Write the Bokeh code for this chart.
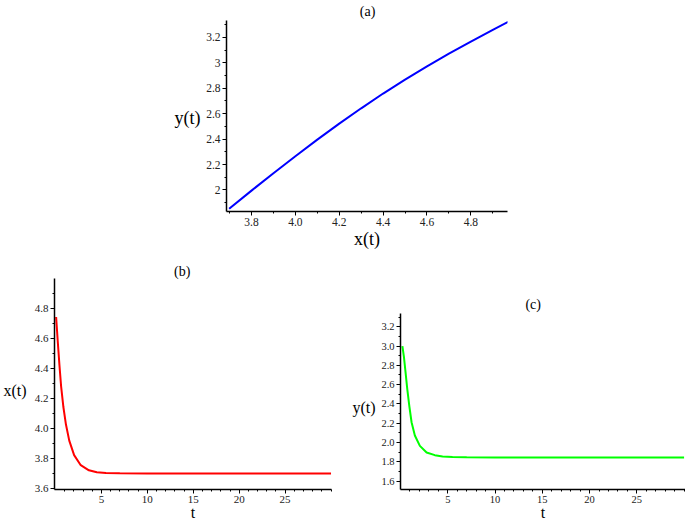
from bokeh.plotting import figure
from bokeh.models import Range1d, FixedTicker, LinearAxis
from bokeh.layouts import column, row
from bokeh.embed import file_html
from bokeh.resources import INLINE
from bokeh.core.properties import value
import numpy as np

# ---------------- data ----------------
# (a) phase trajectory y(t) versus x(t)
xa = [3.698, 3.80, 3.90, 4.00, 4.10, 4.20, 4.30, 4.40, 4.50, 4.60, 4.70, 4.80, 4.90, 4.97]
ya = [1.852, 1.995, 2.132, 2.265, 2.396, 2.522, 2.642, 2.758, 2.867, 2.972, 3.071, 3.166, 3.258, 3.322]

# (b) x(t) versus t
tb = [0.07, 0.25, 0.43, 0.61, 0.86, 1.14, 1.5, 2.03, 2.75, 3.64, 4.5, 5.5, 7.0, 10.0, 15.0, 20.0, 25.0, 30.0]
xb = [4.74, 4.575, 4.42, 4.28, 4.14, 4.023, 3.916, 3.819, 3.752, 3.718, 3.705, 3.700, 3.698, 3.697, 3.697, 3.697, 3.697, 3.697]

# (c) y(t) versus t
tc = [0.2, 0.36, 0.54, 0.72, 0.93, 1.17, 1.52, 2.05, 2.76, 3.63, 4.45, 5.5, 7.0, 10.0, 15.0, 20.0, 25.0, 30.0]
yc = [3.0, 2.891, 2.721, 2.55, 2.38, 2.21, 2.073, 1.965, 1.897, 1.869, 1.856, 1.850, 1.847, 1.845, 1.845, 1.845, 1.845, 1.845]

# tick values and labels
a_xticks = [3.8, 4.0, 4.2, 4.4, 4.6, 4.8]
a_xlabels = ["3.8", "4.0", "4.2", "4.4", "4.6", "4.8"]
a_yticks = [2.0, 2.2, 2.4, 2.6, 2.8, 3.0, 3.2]
a_ylabels = ["2", "2.2", "2.4", "2.6", "2.8", "3", "3.2"]
t_ticks = [5, 10, 15, 20, 25]
t_labels = ["5", "10", "15", "20", "25"]
b_yticks = [3.6, 3.8, 4.0, 4.2, 4.4, 4.6, 4.8]
b_ylabels = ["3.6", "3.8", "4.0", "4.2", "4.4", "4.6", "4.8"]
c_yticks = [1.6, 1.8, 2.0, 2.2, 2.4, 2.6, 2.8, 3.0, 3.2]
c_ylabels = ["1.6", "1.8", "2.0", "2.2", "2.4", "2.6", "2.8", "3.0", "3.2"]

SERIF = "Liberation Serif"


def style(p, xt, xl, xminor, yt, yl, yminor, fs):
    p.xgrid.visible = False
    p.ygrid.visible = False
    p.outline_line_color = None
    p.xaxis.ticker = FixedTicker(ticks=xt, minor_ticks=xminor)
    p.yaxis.ticker = FixedTicker(ticks=yt, minor_ticks=yminor)
    p.xaxis.major_label_overrides = {v: s for v, s in zip(xt, xl)}
    p.yaxis.major_label_overrides = {v: s for v, s in zip(yt, yl)}
    for ax in (p.xaxis, p.yaxis):
        ax.axis_line_color = "black"
        ax.axis_line_width = 1.5
        ax.major_tick_line_color = "black"
        ax.minor_tick_line_color = "black"
        ax.major_tick_in = 0
        ax.major_tick_out = 4
        ax.minor_tick_in = 0
        ax.minor_tick_out = 2
        ax.major_label_text_font = SERIF
        ax.major_label_text_font_size = fs
        ax.major_label_text_color = "#222222"
        ax.major_label_standoff = 2
    p.xaxis.axis_label_text_font = SERIF
    p.xaxis.axis_label_text_font_style = "normal"
    p.xaxis.axis_label_text_color = "black"


def text_axis(p, side, pos, text, size, standoff):
    ax = LinearAxis(ticker=FixedTicker(ticks=[pos], minor_ticks=[]),
                    major_label_overrides={pos: text})
    ax.axis_line_color = None
    ax.major_tick_line_color = None
    ax.minor_tick_line_color = None
    ax.major_tick_in = 0
    ax.major_tick_out = 0
    ax.minor_tick_in = 0
    ax.minor_tick_out = 0
    ax.major_label_standoff = standoff
    ax.major_label_text_font = SERIF
    ax.major_label_text_font_size = size
    ax.major_label_text_color = "black"
    p.add_layout(ax, side)


# ---------------- (a) ----------------
pa = figure(width=685, height=252, output_backend="svg", toolbar_location=None,
            x_range=Range1d(3.686, 4.967), y_range=Range1d(1.831, 3.332),
            min_border_left=226, min_border_right=178, min_border_top=18, min_border_bottom=41)
pa.line(xa, ya, line_color="#0000ff", line_width=2)
style(pa, a_xticks, a_xlabels, list(np.round(np.arange(3.7, 5.0, 0.1), 2)),
      a_yticks, a_ylabels, list(np.round(np.arange(1.9, 3.35, 0.1), 2)), "11.5px")
pa.xaxis.axis_label = "x(t)"
pa.xaxis.axis_label_text_font_size = "18px"
pa.xaxis.axis_label_standoff = 0
text_axis(pa, "left", 2.562, "y(t)", "18px", 3)
text_axis(pa, "above", 4.329, "(a)", "14px", 2)

# ---------------- (b) ----------------
pb = figure(width=340, height=273, output_backend="svg", toolbar_location=None,
            x_range=Range1d(-0.107, 30.05), y_range=Range1d(3.59, 4.997),
            min_border_left=49, min_border_right=9, min_border_top=26, min_border_bottom=36)
pb.line(tb, xb, line_color="#ff0000", line_width=2)
style(pb, t_ticks, t_labels, list(range(1, 31)),
      b_yticks, b_ylabels, list(np.round(np.arange(3.7, 5.0, 0.1), 2)), "11px")
pb.xaxis.axis_label = "t"
pb.xaxis.axis_label_text_font_size = "16px"
pb.xaxis.axis_label_standoff = -2
text_axis(pb, "left", 4.25, "x(t)", "16px", 5)
text_axis(pb, "above", 13.8, "(b)", "14px", 0)

# ---------------- (c) ----------------
pc = figure(width=345, height=273, output_backend="svg", toolbar_location=None,
            x_range=Range1d(0.0, 30.15), y_range=Range1d(1.513, 3.70),
            min_border_left=60, min_border_right=0, min_border_top=26, min_border_bottom=36)
pc.line(tc, yc, line_color="#00ff00", line_width=2)
style(pc, t_ticks, t_labels, list(range(1, 31)),
      c_yticks, c_ylabels, list(np.round(np.arange(1.6, 3.35, 0.1), 2)), "10.5px")
pc.yaxis.bounds = (1.513, 3.337)
pc.xaxis.axis_label = "t"
pc.xaxis.axis_label_text_font_size = "16px"
pc.xaxis.axis_label_standoff = -2
text_axis(pc, "left", 2.363, "y(t)", "16px", 3)
pc.text(x=[14.04], y=[3.43], text=["(c)"], text_font=value(SERIF), text_font_size="14px",
        text_align="center", text_baseline="middle", text_color="black")

layout = column(pa, row(pb, pc))
open("out.html", "w").write(file_html(layout, INLINE))
